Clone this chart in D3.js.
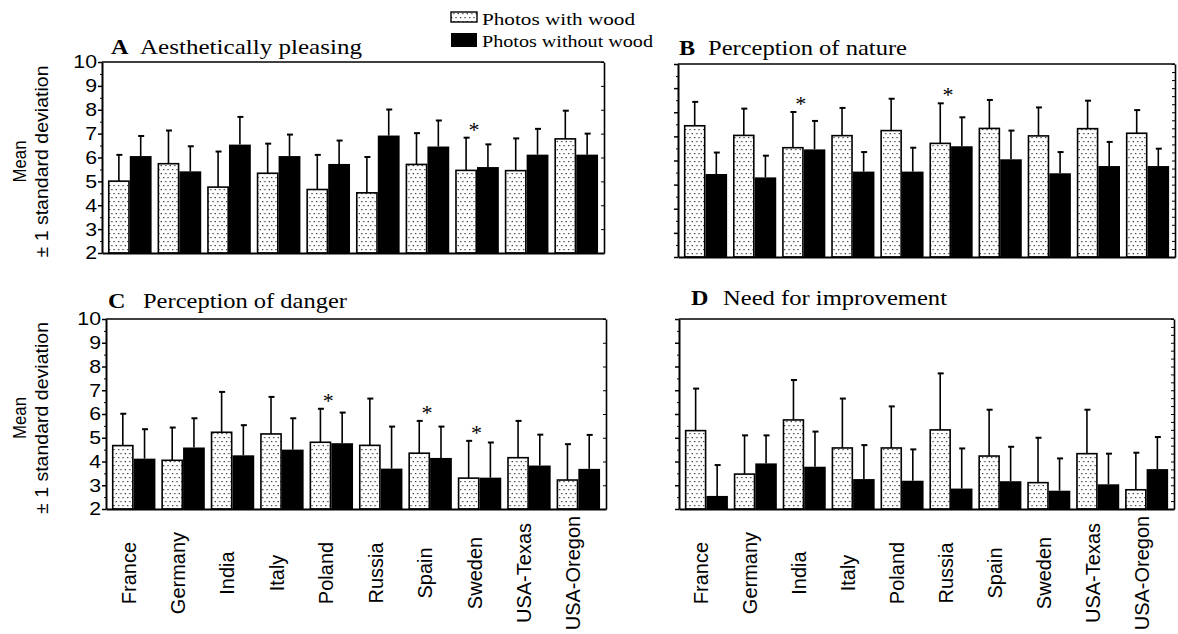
<!DOCTYPE html>
<html>
<head>
<meta charset="utf-8">
<script src="https://cdn.jsdelivr.net/npm/d3@7"></script>
<style>
  body { margin: 0; background: #fff; }
  text { fill: #000; }
</style>
</head>
<body>
<svg id="chart" width="1178" height="634"></svg>
<script>
// categories (countries)
var categories = ["France", "Germany", "India", "Italy", "Poland", "Russia", "Spain", "Sweden", "USA-Texas", "USA-Oregon"];
var seriesNames = ["Photos with wood", "Photos without wood"];
var yTicks = [2, 3, 4, 5, 6, 7, 8, 9, 10];

// A  Aesthetically pleasing
var aWood   = [5.01, 5.74, 4.76, 5.34, 4.66, 4.52, 5.71, 5.46, 5.45, 6.78];
var aWoodSD = [1.10, 1.39, 1.49, 1.24, 1.45, 1.50, 1.31, 1.37, 1.35, 1.18];
var aNo     = [6.06, 5.42, 6.54, 6.06, 5.73, 6.92, 6.46, 5.60, 6.12, 6.12];
var aNoSD   = [0.84, 1.05, 1.16, 0.90, 0.98, 1.09, 1.09, 0.95, 1.08, 0.88];
var aStars  = ["Sweden"];

// B  Perception of nature
var bWood   = [7.44, 7.04, 6.53, 7.03, 7.24, 6.71, 7.33, 7.02, 7.32, 7.13];
var bWoodSD = [0.99, 1.11, 1.48, 1.15, 1.32, 1.66, 1.18, 1.18, 1.16, 0.96];
var bNo     = [5.44, 5.30, 6.46, 5.54, 5.54, 6.59, 6.05, 5.47, 5.77, 5.77];
var bNoSD   = [0.89, 0.90, 1.18, 0.81, 0.99, 1.20, 1.19, 0.88, 1.00, 0.72];
var bStars  = ["India", "Russia"];

// C  Perception of danger
var cWood   = [4.67, 4.05, 5.23, 5.16, 4.81, 4.68, 4.35, 3.30, 4.16, 3.22];
var cWoodSD = [1.34, 1.38, 1.70, 1.56, 1.41, 1.97, 1.36, 1.57, 1.55, 1.51];
var cNo     = [4.12, 4.59, 4.26, 4.50, 4.77, 3.70, 4.15, 3.32, 3.83, 3.69];
var cNoSD   = [1.24, 1.23, 1.27, 1.32, 1.29, 1.77, 1.32, 1.48, 1.30, 1.43];
var cStars  = ["Poland", "Spain", "Sweden"];

// D  Need for improvement
var dWood   = [5.30, 3.47, 5.75, 4.57, 4.57, 5.33, 4.23, 3.11, 4.33, 2.81];
var dWoodSD = [1.77, 1.63, 1.68, 2.08, 1.75, 2.38, 1.95, 1.89, 1.85, 1.56];
var dNo     = [2.55, 3.92, 3.78, 3.26, 3.19, 2.86, 3.17, 2.77, 3.04, 3.68];
var dNoSD   = [1.30, 1.18, 1.48, 1.43, 1.32, 1.69, 1.45, 1.36, 1.29, 1.35];
var dStars  = [];

var serif = "'Liberation Serif', 'Times New Roman', serif";
var sans = "'Liberation Sans', Arial, sans-serif";

var svg = d3.select('#chart');

// dotted fill for the "with wood" bars
var pat = svg.append('defs').append('pattern')
    .attr('id', 'dots')
    .attr('patternUnits', 'userSpaceOnUse')
    .attr('width', 4.5)
    .attr('height', 8);
pat.append('rect').attr('width', 4.5).attr('height', 8).attr('fill', '#fff');
pat.append('rect').attr('x', 1).attr('y', 1).attr('width', 1.2).attr('height', 1.2).attr('fill', '#222');
pat.append('rect').attr('x', 3.2).attr('y', 5).attr('width', 1.2).attr('height', 1.2).attr('fill', '#222');

// stretch text horizontally (the scan is wider than the fonts)
function stretch(sel, k) {
    sel.each(function () {
        var w = this.getComputedTextLength();
        d3.select(this).attr('textLength', w * k).attr('lengthAdjust', 'spacingAndGlyphs');
    });
}

var panels = [
    { letter: 'A', title: 'Aesthetically pleasing', wood: aWood, woodSD: aWoodSD, no: aNo, noSD: aNoSD, stars: aStars,
      left: 102, right: 604, top: 62, bottom: 253, yLabels: true, xLabels: false, rightTicks: 1,
      tx: 111, tx2: 140, tEnd: 362, ty: 54 },
    { letter: 'B', title: 'Perception of nature', wood: bWood, woodSD: bWoodSD, no: bNo, noSD: bNoSD, stars: bStars,
      left: 678, right: 1175, top: 64, bottom: 257, yLabels: false, xLabels: false, rightTicks: 1 / 3,
      tx: 679, tx2: 708, tEnd: 907, ty: 55 },
    { letter: 'C', title: 'Perception of danger', wood: cWood, woodSD: cWoodSD, no: cNo, noSD: cNoSD, stars: cStars,
      left: 106, right: 606, top: 319, bottom: 509, yLabels: true, xLabels: true, rightTicks: 1,
      tx: 108, tx2: 143, tEnd: 347, ty: 308 },
    { letter: 'D', title: 'Need for improvement', wood: dWood, woodSD: dWoodSD, no: dNo, noSD: dNoSD, stars: dStars,
      left: 679, right: 1174, top: 319, bottom: 509, yLabels: false, xLabels: true, rightTicks: 1 / 3,
      tx: 691, tx2: 723, tEnd: 947, ty: 305 }
];

panels.forEach(function (p) {
    var g = svg.append('g');

    var x = d3.scaleBand()
        .domain(categories)
        .range([p.left, p.right])
        .paddingInner(0.12)
        .paddingOuter(0.12);
    var sub = d3.scaleBand()
        .domain(['wood', 'no'])
        .range([0, x.bandwidth()]);
    var y = d3.scaleLinear()
        .domain([2, 10])
        .range([p.bottom, p.top]);

    var rows = categories.map(function (c, i) {
        return { cat: c, wood: p.wood[i], woodSD: p.woodSD[i], no: p.no[i], noSD: p.noSD[i] };
    });

    // error bars (drawn first so the bar tops cover their base)
    ['wood', 'no'].forEach(function (k) {
        var eb = g.append('g').selectAll('g')
            .data(rows)
            .enter().append('g');
        eb.append('line')
            .attr('x1', function (d) { return x(d.cat) + sub(k) + sub.bandwidth() / 2; })
            .attr('x2', function (d) { return x(d.cat) + sub(k) + sub.bandwidth() / 2; })
            .attr('y1', function (d) { return y(d[k]); })
            .attr('y2', function (d) { return y(d[k] + d[k + 'SD']); })
            .attr('stroke', '#000')
            .attr('stroke-width', 1.6);
        eb.append('line')
            .attr('x1', function (d) { return x(d.cat) + sub(k) + sub.bandwidth() / 2 - 2.5; })
            .attr('x2', function (d) { return x(d.cat) + sub(k) + sub.bandwidth() / 2 + 3.5; })
            .attr('y1', function (d) { return y(d[k] + d[k + 'SD']); })
            .attr('y2', function (d) { return y(d[k] + d[k + 'SD']); })
            .attr('stroke', '#000')
            .attr('stroke-width', 2);
    });

    // bars
    g.append('g').selectAll('rect')
        .data(rows)
        .enter().append('rect')
        .attr('x', function (d) { return x(d.cat) + sub('wood') + 0.8; })
        .attr('y', function (d) { return y(d.wood); })
        .attr('width', sub.bandwidth() - 1.6)
        .attr('height', function (d) { return y(2) - y(d.wood); })
        .attr('fill', 'url(#dots)')
        .attr('stroke', '#000')
        .attr('stroke-width', 1.6);

    g.append('g').selectAll('rect')
        .data(rows)
        .enter().append('rect')
        .attr('x', function (d) { return x(d.cat) + sub('no'); })
        .attr('y', function (d) { return y(d.no); })
        .attr('width', sub.bandwidth())
        .attr('height', function (d) { return y(2) - y(d.no); })
        .attr('fill', '#000');

    // significance asterisks
    g.append('g').selectAll('text')
        .data(rows.filter(function (d) { return p.stars.indexOf(d.cat) >= 0; }))
        .enter().append('text')
        .attr('x', function (d) { return x(d.cat) + x.bandwidth() / 2 - 3; })
        .attr('y', function (d) { return y(Math.max(d.wood + d.woodSD, d.no + d.noSD)) - 1; })
        .attr('text-anchor', 'middle')
        .attr('font-family', serif)
        .attr('font-size', 22)
        .style('fill', '#000')
        .text('*');

    // left axis: major + minor ticks
    var leftAxis = g.append('g')
        .attr('transform', 'translate(' + p.left + ',0)')
        .call(d3.axisLeft(y).tickValues(yTicks).tickSize(4).tickSizeOuter(0)
            .tickFormat(p.yLabels ? d3.format('d') : function () { return ''; }));
    leftAxis.select('.domain').attr('stroke-width', 2);
    leftAxis.selectAll('.tick line').attr('stroke-width', 1.5);
    leftAxis.selectAll('.tick text')
        .attr('x', -5)
        .attr('font-family', sans)
        .attr('font-size', 18.5)
        .call(stretch, 1.15);
    g.append('g')
        .attr('transform', 'translate(' + p.left + ',0)')
        .call(d3.axisLeft(y).tickValues(d3.range(2.5, 10, 1)).tickSize(2).tickFormat(''))
        .select('.domain').remove();

    // right frame with inward ticks
    var rightAxis = g.append('g')
        .attr('transform', 'translate(' + p.right + ',0)')
        .call(d3.axisLeft(y).tickValues(d3.range(2, 10.001, p.rightTicks)).tickSize(3).tickSizeOuter(0).tickFormat(''));
    rightAxis.select('.domain').attr('stroke-width', 1.6);

    // top frame line
    g.append('line')
        .attr('x1', p.left).attr('x2', p.right)
        .attr('y1', p.top).attr('y2', p.top)
        .attr('stroke', '#000').attr('stroke-width', 1.4);

    // bottom axis
    var bottomAxis = g.append('g')
        .attr('transform', 'translate(0,' + p.bottom + ')')
        .call(d3.axisBottom(x).tickSize(0).tickSizeOuter(0)
            .tickFormat(p.xLabels ? null : function () { return ''; }));
    bottomAxis.select('.domain').attr('stroke-width', 2.2);
    bottomAxis.selectAll('.tick text')
        .attr('x', 0).attr('y', 0).attr('dy', 0)
        .attr('transform', 'translate(2,64) rotate(-90)')
        .attr('text-anchor', 'middle')
        .attr('font-family', sans)
        .attr('font-size', 20);

    // y-axis title
    if (p.yLabels) {
        var cy = (p.top + p.bottom) / 2 + 4;
        g.append('text')
            .attr('transform', 'translate(26,' + cy + ') rotate(-90)')
            .attr('text-anchor', 'middle')
            .attr('font-family', sans)
            .attr('font-size', 19)
            .attr('textLength', 42)
            .attr('lengthAdjust', 'spacingAndGlyphs')
            .text('Mean');
        g.append('text')
            .attr('transform', 'translate(48,' + cy + ') rotate(-90)')
            .attr('text-anchor', 'middle')
            .attr('font-family', sans)
            .attr('font-size', 19)
            .attr('textLength', 192)
            .attr('lengthAdjust', 'spacingAndGlyphs')
            .text('\u00b1 1 standard deviation');
    }

    // panel title
    g.append('text')
        .attr('x', p.tx).attr('y', p.ty)
        .attr('font-family', serif)
        .attr('font-weight', 'bold')
        .attr('font-size', 21)
        .text(p.letter)
        .call(stretch, 1.15);
    g.append('text')
        .attr('x', p.tx2).attr('y', p.ty)
        .attr('font-family', serif)
        .attr('font-size', 21)
        .attr('textLength', p.tEnd - p.tx2)
        .attr('lengthAdjust', 'spacingAndGlyphs')
        .text(p.title);
});

// legend
var legend = svg.append('g');
legend.append('rect')
    .attr('x', 451).attr('y', 12).attr('width', 26).attr('height', 10)
    .attr('fill', 'url(#dots)').attr('stroke', '#000').attr('stroke-width', 1.4);
legend.append('rect')
    .attr('x', 451).attr('y', 33).attr('width', 26).attr('height', 14)
    .attr('fill', '#000');
legend.selectAll('text')
    .data(seriesNames)
    .enter().append('text')
    .attr('x', 482)
    .attr('y', function (d, i) { return 25 + i * 22; })
    .attr('font-family', serif)
    .attr('font-size', 17)
    .attr('textLength', function (d, i) { return i === 0 ? 153 : 171; })
    .attr('lengthAdjust', 'spacingAndGlyphs')
    .text(function (d) { return d; });
</script>
</body>
</html>
